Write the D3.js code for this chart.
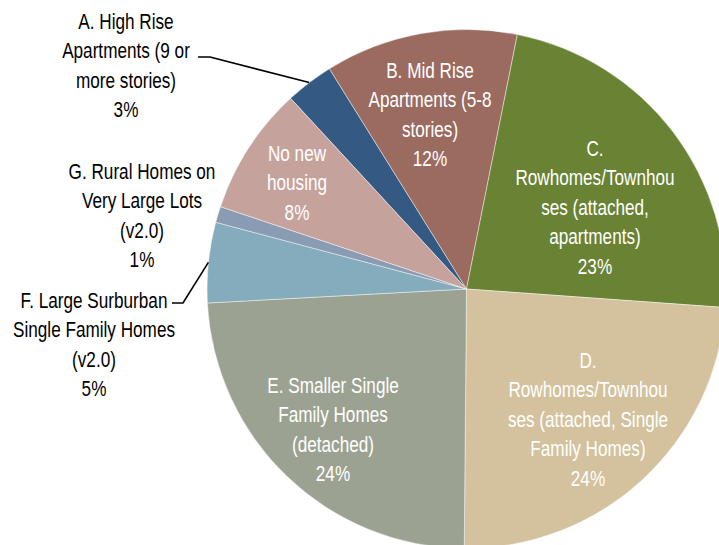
<!DOCTYPE html>
<html>
<head>
<meta charset="utf-8">
<script src="https://cdn.jsdelivr.net/npm/d3@7"></script>
<style>
  html, body { margin: 0; padding: 0; background: #fff; }
  svg text { font-family: "Liberation Sans", Arial, sans-serif; }
</style>
</head>
<body>
<svg id="chart" width="719" height="545"></svg>
<script>
// Housing type shares (percent), in drawing order clockwise
const categories = [
  "A. High Rise Apartments (9 or more stories)",
  "B. Mid Rise Apartments (5-8 stories)",
  "C. Rowhomes/Townhouses (attached, apartments)",
  "D. Rowhomes/Townhouses (attached, Single Family Homes)",
  "E. Smaller Single Family Homes (detached)",
  "F. Large Surburban Single Family Homes (v2.0)",
  "G. Rural Homes on Very Large Lots (v2.0)",
  "No new housing"
];
const shares = [3, 12, 23, 24, 24, 5, 1, 8];

// Wrapped label text for each slice (percentage line is appended from shares)
const labelLines = [
  ["A. High Rise", "Apartments (9 or", "more stories)"],
  ["B. Mid Rise", "Apartments (5-8", "stories)"],
  ["C.", "Rowhomes/Townhou", "ses (attached,", "apartments)"],
  ["D.", "Rowhomes/Townhou", "ses (attached, Single", "Family Homes)"],
  ["E. Smaller Single", "Family Homes", "(detached)"],
  ["F. Large Surburban", "Single Family Homes", "(v2.0)"],
  ["G. Rural Homes on", "Very Large Lots", "(v2.0)"],
  ["No new", "housing"]
];

const colors = ["#345a83", "#9b6b60", "#6a8234", "#d3c29d", "#9ca291", "#84acbc", "#8a9bb4", "#c5a39c"];

// Label placement: centre x, first-line y, inside/outside, optional leader elbow
const layout = [
  { x: 126, y: 21,  inside: false, elbow: [210, 57], tail: [198, 57] },
  { x: 430, y: 70,  inside: true },
  { x: 595, y: 148, inside: true },
  { x: 588, y: 360, inside: true },
  { x: 333, y: 385, inside: true },
  { x: 94,  y: 300, inside: false, elbow: [183, 303], tail: [172, 303] },
  { x: 142, y: 171, inside: false },
  { x: 297, y: 153, inside: true }
];

const W = 719, H = 545;
const cx = 466.5, cy = 289, R = 259.5;
const lineH = 29.6;
const fontSize = 22;
const squeeze = 0.78;   // horizontal condensing of the label face
const startDeg = -42.7;

const svg = d3.select("#chart");
svg.append("rect").attr("width", W).attr("height", H).attr("fill", "#fff");

const pie = d3.pie().sort(null).value(d => d)
  .startAngle(startDeg * Math.PI / 180)
  .endAngle(startDeg * Math.PI / 180 + 2 * Math.PI);
const arcs = pie(shares);
const arc = d3.arc().innerRadius(0).outerRadius(R);

const g = svg.append("g").attr("transform", `translate(${cx},${cy})`);
g.selectAll("path.slice")
  .data(arcs)
  .join("path")
  .attr("class", "slice")
  .attr("d", arc)
  .attr("fill", (d, i) => colors[i])
  .attr("stroke", "rgba(255,255,255,0.55)")
  .attr("stroke-width", 0.8);

// Leader lines from the slice rim to the outside labels
arcs.forEach((d, i) => {
  const L = layout[i];
  if (!L.elbow) return;
  const a = (d.startAngle + d.endAngle) / 2;
  const px = cx + R * Math.sin(a), py = cy - R * Math.cos(a);
  svg.append("path")
    .attr("d", d3.line()([[px, py], L.elbow, L.tail]))
    .attr("fill", "none")
    .attr("stroke", "#000")
    .attr("stroke-width", 1.6);
});

// Data labels
arcs.forEach((d, i) => {
  const L = layout[i];
  const lines = labelLines[i].concat([d3.format(".0f")(d.data) + "%"]);
  const t = svg.append("text")
    .attr("transform", `translate(${L.x},0) scale(${squeeze},1)`)
    .attr("text-anchor", "middle")
    .attr("font-size", fontSize)
    .attr("fill", L.inside ? "#fff" : "#000");
  lines.forEach((s, k) => {
    t.append("tspan")
      .attr("x", 0)
      .attr("y", L.y + k * lineH)
      .attr("dy", "0.35em")
      .text(s);
  });
});
</script>
</body>
</html>
